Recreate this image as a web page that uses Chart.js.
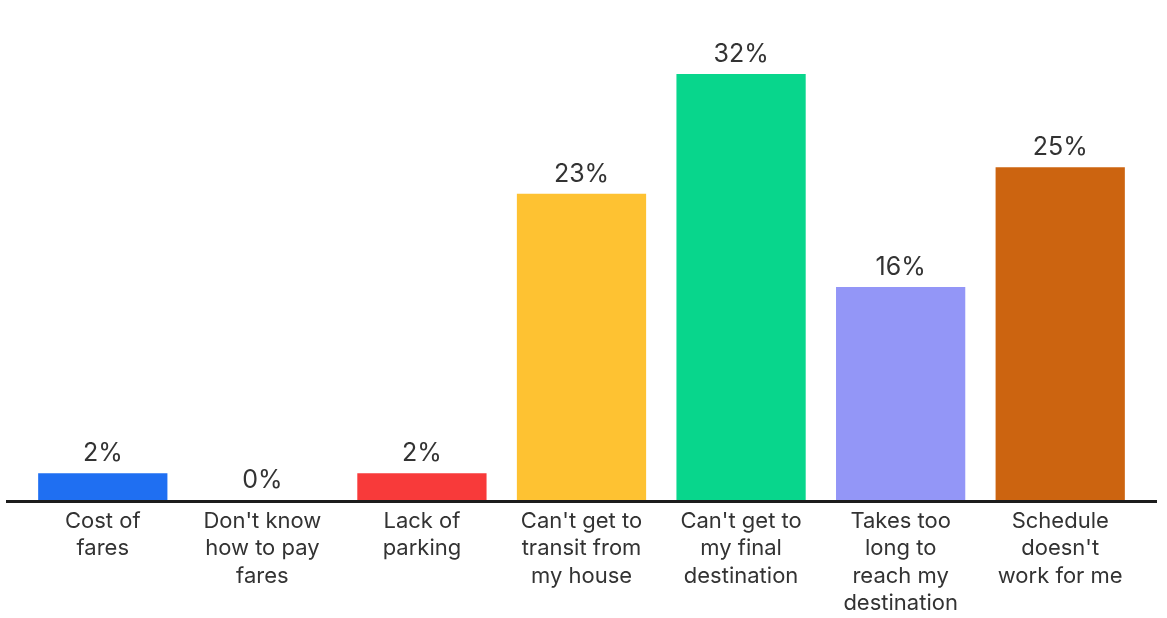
<!DOCTYPE html>
<html>
<head>
<meta charset="utf-8">
<script src="https://cdn.jsdelivr.net/npm/chart.js@4/dist/chart.umd.min.js"></script>
<style>
  html, body { margin: 0; padding: 0; background: #fff; }
  #wrap { position: relative; width: 1167px; height: 618px; }
</style>
</head>
<body>
<div id="wrap"><canvas id="bar-chart"></canvas></div>
<script>
const categories = [
  ["Cost of", "fares"],
  ["Don't know", "how to pay", "fares"],
  ["Lack of", "parking"],
  ["Can't get to", "transit from", "my house"],
  ["Can't get to", "my final", "destination"],
  ["Takes too", "long to", "reach my", "destination"],
  ["Schedule", "doesn't", "work for me"],
];
const shares = [2, 0, 2, 23, 32, 16, 25];
const barColors = ["#1f6ff2", "#9396f7", "#f83a3a", "#fec232", "#08d68c", "#9396f7", "#cc6410"];

const FONT = "Inter, 'Noto Sans', sans-serif";

// percent labels over each bar
const valueLabels = {
  id: "valueLabels",
  afterDatasetsDraw(chart) {
    const { ctx } = chart;
    const meta = chart.getDatasetMeta(0);
    ctx.save();
    ctx.fillStyle = "#333";
    ctx.font = "25px " + FONT;
    ctx.textAlign = "center";
    ctx.textBaseline = "alphabetic";
    meta.data.forEach((bar, i) => {
      ctx.fillText(shares[i] + "%", bar.x, bar.y - 12);
    });
    ctx.restore();
  },
};

// baseline runs a bit past the plot on both sides
const baseLine = {
  id: "baseLine",
  afterDatasetsDraw(chart) {
    const { ctx, chartArea } = chart;
    ctx.save();
    ctx.strokeStyle = "#1c1c1c";
    ctx.lineWidth = 3;
    ctx.beginPath();
    ctx.moveTo(chartArea.left - 17, chartArea.bottom + 1.5);
    ctx.lineTo(chartArea.right + 17, chartArea.bottom + 1.5);
    ctx.stroke();
    ctx.restore();
  },
};

new Chart(document.getElementById("bar-chart"), {
  type: "bar",
  data: {
    labels: categories,
    datasets: [{
      data: shares,
      backgroundColor: barColors,
      borderWidth: 0,
      barPercentage: 0.81,
      categoryPercentage: 1,
    }],
  },
  options: {
    responsive: true,
    maintainAspectRatio: false,
    animation: false,
    layout: { padding: { left: 23, right: 27, top: 74, bottom: -7 } },
    plugins: { legend: { display: false }, tooltip: { enabled: false } },
    scales: {
      x: {
        grid: { display: false, drawTicks: false },
        border: { display: false },
        ticks: {
          color: "#333",
          padding: 8,
          maxRotation: 0,
          autoSkip: false,
          font: { family: FONT, size: 22, lineHeight: 1.24 },
        },
      },
      y: {
        min: 0,
        max: 32,
        display: false,
      },
    },
  },
  plugins: [valueLabels, baseLine],
});
</script>
</body>
</html>
